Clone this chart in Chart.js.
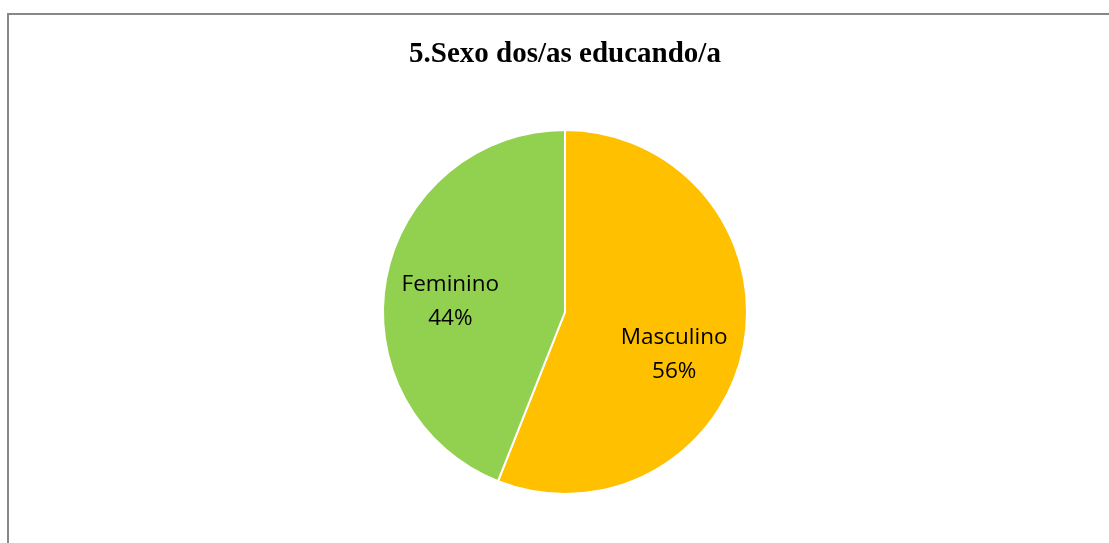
<!DOCTYPE html>
<html>
<head>
<meta charset="utf-8">
<script src="https://cdn.jsdelivr.net/npm/chart.js@4/dist/chart.umd.min.js"></script>
<style>
  html, body { margin: 0; padding: 0; background: #fff; }
  #wrap { position: relative; width: 1109px; height: 543px; overflow: hidden; }
  #frame { position: absolute; left: 7px; top: 13px; right: -10px; bottom: -10px;
           border-left: 2px solid #888; border-top: 2px solid #888; }
  canvas { position: absolute; left: 0; top: 0; }
</style>
</head>
<body>
<div id="wrap">
  <div id="frame"></div>
  <canvas id="c" width="1109" height="543"></canvas>
</div>
<script>
const chartTitle = "5.Sexo dos/as educando/a";
const categories = ["Masculino", "Feminino"];
const values = [56, 44];
const percentLabels = ["56%", "44%"];
const colors = ["#FFC000", "#92D050"];
// label placement relative to pie center, in units of radius
const labelOffsets = [[0.60, 0.235], [-0.63, -0.055]];

const labelPlugin = {
  id: 'labels',
  afterDraw(chart) {
    const ctx = chart.ctx;
    ctx.save();
    // title
    ctx.fillStyle = '#000';
    ctx.font = 'bold 29px "Liberation Serif", "Times New Roman", serif';
    ctx.textAlign = 'center';
    ctx.textBaseline = 'middle';
    ctx.fillText(chartTitle, 565, 55);
    // slice labels
    const meta = chart.getDatasetMeta(0);
    ctx.font = '22.5px "Open Sans", Lato, sans-serif';
    meta.data.forEach((arc, i) => {
      const r = arc.outerRadius;
      const x = arc.x + labelOffsets[i][0] * r;
      const y = arc.y + labelOffsets[i][1] * r;
      ctx.fillText(categories[i], x, y - 17);
      ctx.fillText(percentLabels[i], x, y + 17);
    });
    ctx.restore();
  }
};

new Chart(document.getElementById('c'), {
  type: 'pie',
  data: {
    labels: categories,
    datasets: [{
      data: values,
      backgroundColor: colors,
      borderColor: '#ffffff',
      borderWidth: 2
    }]
  },
  options: {
    responsive: false,
    animation: false,
    layout: { padding: { left: 21, right: 0, top: 129, bottom: 48 } },
    plugins: {
      legend: { display: false },
      title: { display: false },
      tooltip: { enabled: false }
    }
  },
  plugins: [labelPlugin]
});
</script>
</body>
</html>
